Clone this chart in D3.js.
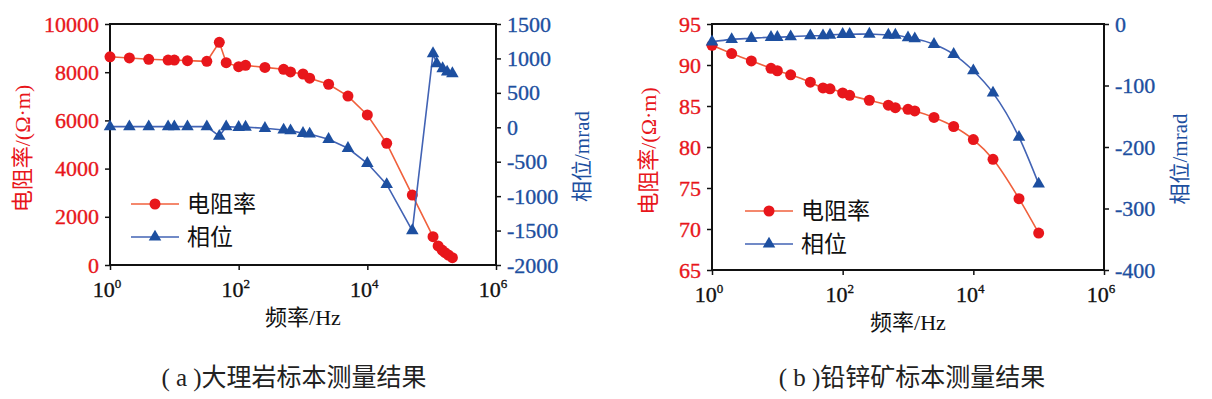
<!DOCTYPE html>
<html>
<head>
<meta charset="utf-8">
<script src="https://cdn.jsdelivr.net/npm/d3@7"></script>
<style>
  body { margin: 0; background: #fff; }
  svg { display: block; }
  .serif { font-family: "Liberation Serif", "Times New Roman", "DejaVu Serif", "Noto Sans CJK SC", serif; }
  .cjk { font-family: "Noto Sans CJK SC", sans-serif; }
</style>
</head>
<body>
<div id="chart"></div>
<script>
// data: (a) marble sample
let freqA_res = [1, 2, 4, 8, 10, 16, 32, 50, 64, 100, 128, 256, 500, 640, 1000, 1270, 2500, 5000, 10000, 20000, 50000,
        105000, 126000, 145000, 162000, 182000, 210000],
    resA = [8640, 8590, 8535, 8505, 8505, 8480, 8450, 9240, 8395, 8230, 8285, 8200, 8120, 8010, 7925, 7750, 7500, 7010, 6225, 5050, 2900,
        1175, 790, 620, 510, 415, 305],
    freqA_phase = [1, 2, 4, 8, 10, 16, 32, 50, 64, 100, 128, 256, 500, 640, 1000, 1270, 2500, 5000, 10000, 20000, 50000,
        105000, 120000, 148000, 174000, 210000],
    phaseA = [9, 9, 9, 9, 9, 9, 9, -130, 9, 0, 3, -15, -39, -49, -87, -97, -174, -305, -523, -830, -1500,
        1070, 925, 853, 803, 780];

// data: (b) lead-zinc ore sample
let freqB = [1, 2, 4, 8, 10, 16, 32, 50, 64, 100, 128, 256, 500, 640, 1000, 1270, 2500, 5000, 10000, 20000, 50000, 100000],
    resB = [92.4, 91.4, 90.5, 89.6, 89.3, 88.8, 87.9, 87.2, 87.1, 86.6, 86.3, 85.7, 85.1, 84.8, 84.6, 84.4, 83.6, 82.5, 80.9, 78.5, 73.7, 69.5],
    phaseB = [-29, -25, -23.3, -21.6, -21.6, -20.6, -19, -19, -17.9, -16.7, -16.7, -16.3, -17.9, -17.9, -22.3, -23.9, -33, -49.3, -76, -112, -184, -260];

// axis ticks
let xTicks = [1, 100, 10000, 1000000],
    resTicksA = [0, 2000, 4000, 6000, 8000, 10000],
    phaseTicksA = [-2000, -1500, -1000, -500, 0, 500, 1000, 1500],
    resTicksB = [65, 70, 75, 80, 85, 90, 95],
    phaseTicksB = [-400, -300, -200, -100, 0];

let red = "#e8161b", redLine = "#f0603c", blue = "#1d4fa0", blueLine = "#4263b4";

let svg = d3.select("#chart").append("svg")
    .attr("width", 1212)
    .attr("height", 399);

function drawPanel(p) {
    let x = d3.scaleLog().domain([1, 1e6]).range([p.left, p.right]);
    let yRes = d3.scaleLinear().domain(p.resDomain).range([p.bottom, p.top]);
    let yPh = d3.scaleLinear().domain(p.phDomain).range([p.bottom, p.top]);
    let g = svg.append("g");

    // frame
    g.append("rect")
        .attr("x", p.left).attr("y", p.top)
        .attr("width", p.right - p.left).attr("height", p.bottom - p.top)
        .attr("fill", "none").attr("stroke", "#111").attr("stroke-width", 2);

    // x axis
    let xa = g.append("g")
        .attr("transform", "translate(0," + p.bottom + ")")
        .call(d3.axisBottom(x).tickValues(xTicks).tickSize(5).tickFormat(""));
    xa.select(".domain").remove();
    xa.selectAll("line").attr("stroke", "#111").attr("stroke-width", 1.5);
    xTicks.forEach(function(t) {
        let tx = g.append("text")
            .attr("class", "serif")
            .attr("x", x(t) - 3).attr("y", p.bottom + 32)
            .attr("text-anchor", "middle")
            .attr("font-size", 22).attr("fill", "#111")
            .attr("stroke", "#111").attr("stroke-width", 0.35);
        tx.append("tspan").text("10");
        tx.append("tspan").attr("dy", -9).attr("font-size", 13).text(Math.round(Math.log10(t)));
    });
    g.append("text")
        .attr("class", "serif")
        .attr("x", (p.left + p.right) / 2).attr("y", p.bottom + 60)
        .attr("text-anchor", "middle")
        .attr("font-size", 22).attr("fill", "#111")
        .text("频率/Hz");

    // left axis (resistivity)
    let ya = g.append("g")
        .attr("transform", "translate(" + p.left + ",0)")
        .call(d3.axisLeft(yRes).tickValues(p.resTicks).tickSize(5).tickPadding(6).tickFormat(d => String(d)));
    ya.select(".domain").remove();
    ya.attr("font-family", null).attr("font-size", null);
    ya.selectAll("line").attr("stroke", "#111").attr("stroke-width", 1.5);
    ya.selectAll("text").attr("class", "serif").attr("font-size", 22).attr("fill", red)
        .attr("stroke", red).attr("stroke-width", 0.35);
    g.append("text")
        .attr("class", "serif")
        .attr("transform", "translate(" + p.resTitleX + "," + ((p.top + p.bottom) / 2 + 4) + ") rotate(-90)")
        .attr("text-anchor", "middle").attr("dy", "0.35em")
        .attr("font-size", 22).attr("fill", red)
        .text("电阻率/(Ω·m)");

    // right axis (phase)
    let yb = g.append("g")
        .attr("transform", "translate(" + p.right + ",0)")
        .call(d3.axisRight(yPh).tickValues(p.phTicks).tickSize(5).tickPadding(6).tickFormat(d => String(d)));
    yb.select(".domain").remove();
    yb.attr("font-family", null).attr("font-size", null);
    yb.selectAll("line").attr("stroke", "#111").attr("stroke-width", 1.5);
    yb.selectAll("text").attr("class", "serif").attr("font-size", 22).attr("fill", blue)
        .attr("stroke", blue).attr("stroke-width", 0.35);
    g.append("text")
        .attr("class", "serif")
        .attr("transform", "translate(" + p.phTitleX + "," + ((p.top + p.bottom) / 2 + 12) + ") rotate(-90)")
        .attr("text-anchor", "middle").attr("dy", "0.35em")
        .attr("font-size", 21).attr("fill", blue)
        .text("相位/mrad");

    // resistivity series
    let resPts = p.resFreq.map((f, i) => [f, p.res[i]]);
    g.append("path")
        .datum(resPts)
        .attr("fill", "none").attr("stroke", redLine).attr("stroke-width", 1.6)
        .attr("d", d3.line().curve(p.curve).x(d => x(d[0])).y(d => yRes(d[1])));
    g.selectAll(".resDot")
        .data(resPts)
        .enter()
        .append("circle")
        .attr("class", "resDot")
        .attr("cx", d => x(d[0])).attr("cy", d => yRes(d[1]))
        .attr("r", 5.5).attr("fill", red);

    // phase series
    let phPts = p.phFreq.map((f, i) => [f, p.ph[i]]);
    g.append("path")
        .datum(phPts)
        .attr("fill", "none").attr("stroke", blueLine).attr("stroke-width", 1.6)
        .attr("d", d3.line().curve(p.curve).x(d => x(d[0])).y(d => yPh(d[1])));
    let tri = d3.symbol().type(d3.symbolTriangle).size(68);
    g.selectAll(".phTri")
        .data(phPts)
        .enter()
        .append("path")
        .attr("class", "phTri")
        .attr("transform", d => "translate(" + x(d[0]) + "," + yPh(d[1]) + ")")
        .attr("d", tri).attr("fill", blue);

    // legend
    let lx = p.legendX, ly = p.legendY, gap = 33;
    g.append("line").attr("x1", lx).attr("x2", lx + 48).attr("y1", ly).attr("y2", ly)
        .attr("stroke", redLine).attr("stroke-width", 1.6);
    g.append("circle").attr("cx", lx + 24).attr("cy", ly).attr("r", 5.5).attr("fill", red);
    g.append("text").attr("class", "cjk").attr("x", lx + 56).attr("y", ly).attr("dy", "0.36em")
        .attr("font-size", 23).attr("fill", "#111").text("电阻率");
    g.append("line").attr("x1", lx).attr("x2", lx + 48).attr("y1", ly + gap).attr("y2", ly + gap)
        .attr("stroke", blueLine).attr("stroke-width", 1.6);
    g.append("path").attr("transform", "translate(" + (lx + 24) + "," + (ly + gap) + ")")
        .attr("d", tri).attr("fill", blue);
    g.append("text").attr("class", "cjk").attr("x", lx + 56).attr("y", ly + gap).attr("dy", "0.36em")
        .attr("font-size", 23).attr("fill", "#111").text("相位");

    // caption
    g.append("text")
        .attr("class", "serif")
        .attr("x", p.captionX).attr("y", 386)
        .attr("text-anchor", "middle")
        .attr("font-size", 25).attr("fill", "#222")
        .text(p.caption);
}

drawPanel({
    left: 110, right: 496, top: 24, bottom: 265,
    resDomain: [0, 10000], phDomain: [-2000, 1500],
    resTicks: resTicksA, phTicks: phaseTicksA,
    resFreq: freqA_res, res: resA, phFreq: freqA_phase, ph: phaseA,
    curve: d3.curveLinear,
    resTitleX: 22, phTitleX: 582,
    legendX: 131, legendY: 204,
    captionX: 294, caption: "( a )大理岩标本测量结果"
});

drawPanel({
    left: 712, right: 1104, top: 24, bottom: 270,
    resDomain: [65, 95], phDomain: [-400, 0],
    resTicks: resTicksB, phTicks: phaseTicksB,
    resFreq: freqB, res: resB, phFreq: freqB, ph: phaseB,
    curve: d3.curveMonotoneX,
    resTitleX: 648, phTitleX: 1180,
    legendX: 745, legendY: 211,
    captionX: 912, caption: "( b )铅锌矿标本测量结果"
});
</script>
</body>
</html>
